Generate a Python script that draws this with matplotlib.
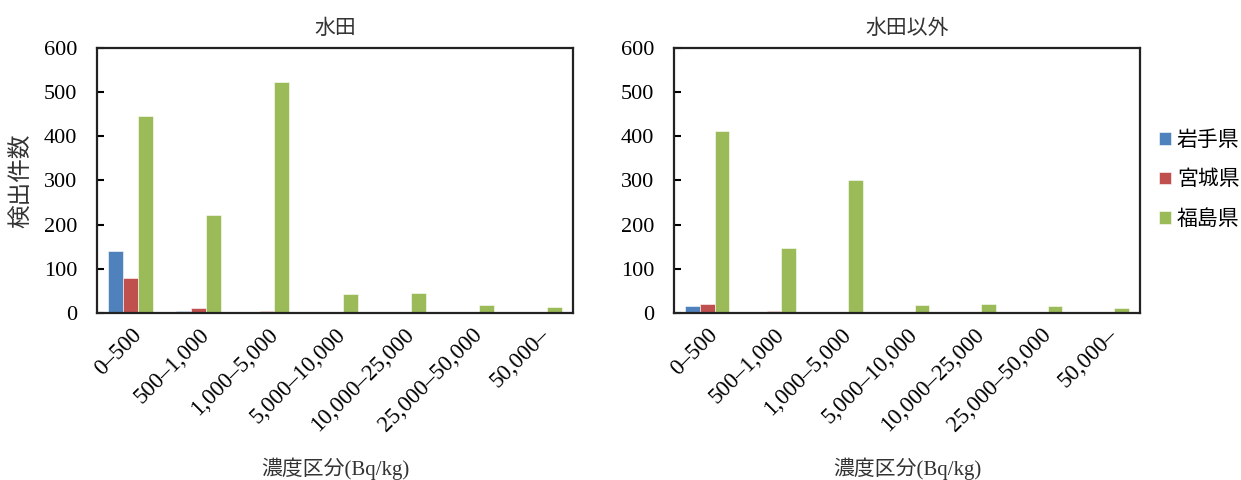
import numpy as np
import matplotlib
matplotlib.use("Agg")
import matplotlib.pyplot as plt

plt.rcParams['font.family'] = ['Liberation Serif', 'Noto Sans CJK JP', 'DejaVu Sans']

# データ
categories = ["0–500", "500–1,000", "1,000–5,000", "5,000–10,000",
              "10,000–25,000", "25,000–50,000", "50,000–"]
prefs = ["岩手県", "宮城県", "福島県"]
colors = ["#4F81BD", "#C0504D", "#9BBB59"]

paddy = {
    "岩手県": [140, 4, 0, 0, 0, 0, 0],
    "宮城県": [79, 12, 4, 0, 0, 0, 0],
    "福島県": [446, 222, 523, 43, 45, 18, 14],
}
other = {
    "岩手県": [16, 0, 0, 0, 0, 0, 0],
    "宮城県": [20, 4, 1, 0, 0, 0, 0],
    "福島県": [412, 147, 301, 17, 20, 15, 11],
}
panels = [("水田", paddy), ("水田以外", other)]

fig = plt.figure(figsize=(12.41, 4.8), dpi=100)
ax_pos = [[0.078, 0.348, 0.384, 0.552], [0.543, 0.348, 0.376, 0.552]]

x = np.arange(len(categories))
w = 0.22
for k, (title, data) in enumerate(panels):
    ax = fig.add_axes(ax_pos[k])
    for i, (p, c) in enumerate(zip(prefs, colors)):
        ax.bar(x + (i - 1) * w, data[p], width=w, color=c, label=p,
               edgecolor="white", linewidth=0.4)
    ax.set_xlim(-0.5, len(categories) - 0.5)
    ax.set_ylim(0, 600)
    ax.set_yticks(range(0, 601, 100))
    ax.set_xticks(x)
    ax.set_xticklabels(categories, rotation=45, ha="right",
                       rotation_mode="anchor", fontsize=16.5)
    ax.tick_params(axis="x", length=0, pad=8)
    ax.tick_params(axis="y", direction="in", length=5, width=1.5,
                   labelsize=16, pad=14)
    for s in ax.spines.values():
        s.set_linewidth(1.6)
        s.set_color("#222222")
    ax.set_title(title, fontsize=15, pad=10, color="#333333")
    ax.set_xlabel("濃度区分(Bq/kg)", fontsize=15, color="#333333")
    ax.xaxis.set_label_coords(0.5, -0.545)
    if k == 0:
        ax.set_ylabel("検出件数", fontsize=17, labelpad=8, color="#333333")
    else:
        ax.legend(loc="center left", bbox_to_anchor=(1.0, 0.5), frameon=False,
                  fontsize=15, handlelength=0.55, handleheight=0.55,
                  handletextpad=0.3, labelspacing=0.95)

fig.savefig("out.png", dpi=100)
